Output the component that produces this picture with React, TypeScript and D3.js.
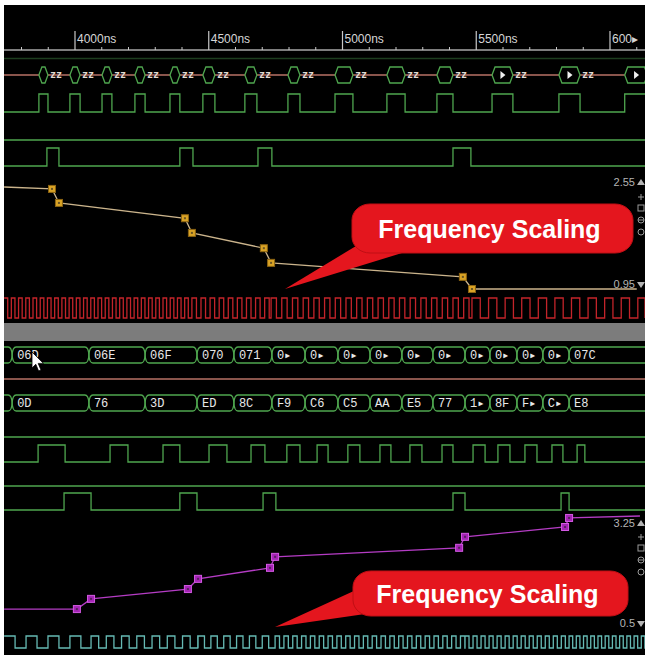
import React from "react";
import * as d3 from "d3";

type Pulse = [number, number];
type Pt = [number, number];

// ---- time axis (ns) ----
const majorTicks = [4000, 4500, 5000, 5500, 6000];
const majorLabels = ["4000ns", "4500ns", "5000ns", "5500ns", "600\u25B8"];
const minorStep = 100;

// ---- upper group ----
// bus that is z between short valid windows, windows follow the clock pulses
const clkPulses: Pulse[] = [
    [3865, 3899], [3981, 4019], [4101, 4138], [4224, 4262], [4355, 4392],
    [4478, 4523], [4635, 4680], [4796, 4841], [4972, 5039], [5166, 5234],
    [5353, 5413], [5559, 5637], [5809, 5888], [6055, 6140]
];
const strobeTop: Pulse[] = [[3895, 3940], [4392, 4441], [4684, 4736], [5413, 5480]];

// supply level, falling (V)
const vTopTimes = [3735, 3914, 3940, 4411, 4437, 4706, 4733, 5450, 5484, 6100];
const vTopValues = [2.55, 2.52, 2.30, 2.06, 1.83, 1.59, 1.36, 1.14, 0.95, 0.95];
const vTopRange = [0.95, 2.55];

// core clock, period per segment (ns)
const redSegStart = [3735, 4437, 4733, 5484];
const redSegPeriod = [27, 34, 40, 62];

// ---- lower group ----
const busTimes = [3765, 4052, 4262, 4456, 4594, 4736, 4860, 4983, 5103, 5222, 5338, 5458, 5551, 5652, 5749, 5847];
const addrLabels = ["06D", "06E", "06F", "070", "071", "0\u25B8", "0\u25B8", "0\u25B8", "0\u25B8", "0\u25B8",
    "0\u25B8", "0\u25B8", "0\u25B8", "0\u25B8", "0\u25B8", "07C"];
const dataLabels = ["0D", "76", "3D", "ED", "8C", "F9", "C6", "C5", "AA", "E5", "77", "1\u25B8", "8F", "F\u25B8", "C\u25B8", "E8"];

const clkBottom: Pulse[] = [
    [3862, 3963], [4131, 4198], [4329, 4392], [4501, 4568], [4658, 4710], [4792, 4841],
    [4905, 4946], [5020, 5065], [5140, 5181], [5252, 5297], [5372, 5413], [5488, 5533],
    [5581, 5626], [5682, 5727], [5783, 5824], [5877, 5906]
];
const strobeBottom: Pulse[] = [[3959, 4060], [4392, 4456], [4703, 4751], [5413, 5458], [5817, 5847]];

// supply level, rising (V)
const vBotTimes = [3735, 4007, 4060, 4422, 4460, 4729, 4748, 5436, 5458, 5832, 5847, 6112];
const vBotValues = [0.88, 0.88, 1.14, 1.39, 1.65, 1.93, 2.21, 2.44, 2.72, 2.97, 3.20, 3.25];
const vBotRange = [0.5, 3.25];

const tealSegStart = [3735, 4060, 4460, 4748, 5458, 5847];
const tealSegPeriod = [82, 57, 48, 33, 30, 27];

// ---- layout ----
const W = 647, H = 657;
const X0 = 4, X1 = 645;
const GREEN = "#4fa64f";
const ZLINE = "#b87266";

const x = d3.scaleLinear().domain([4000, 6000]).range([75, 610]);
const T0 = x.invert(X0), T1 = x.invert(X1);

const pulsePoints = (pulses: Pulse[]): Pt[] => {
    const pts: Pt[] = [[T0, 0]];
    pulses.forEach(([r, f]) => { pts.push([r, 1]); pts.push([f, 0]); });
    pts.push([T1, pts[pts.length - 1][1]]);
    return pts;
};

const clockPoints = (starts: number[], periods: number[]): Pt[] => {
    const pts: Pt[] = [];
    starts.forEach((s, i) => {
        const e = i < starts.length - 1 ? starts[i + 1] : T1;
        for (let t = s; t < e; t += periods[i]) {
            pts.push([t, 1]);
            pts.push([Math.min(t + periods[i] / 2, e), 0]);
        }
    });
    pts.push([T1, 0]);
    return pts;
};

const stepPath = (pts: Pt[], yHi: number, yLo: number) =>
    d3.line<Pt>().x(d => x(d[0])).y(d => (d[1] ? yHi : yLo)).curve(d3.curveStepAfter)(pts) || "";

// value box with angled ends (row 1 windows)
const hexPath = (a: number, b: number, top: number, bot: number) => {
    const c = (top + bot) / 2, s = 3;
    return `M${a},${c}L${a + s},${top}L${b - s},${top}L${b},${c}L${b - s},${bot}L${a + s},${bot}Z`;
};

// value box with rounded ")(" ends (bus rows)
const roundPath = (a: number, b: number, top: number, bot: number, openLeft = false) => {
    const c = (top + bot) / 2, s = 4;
    const right = `L${b - s},${top}Q${b - 0.5},${top} ${b},${c}Q${b - 0.5},${bot} ${b - s},${bot}`;
    if (openLeft) return `M${a},${top}${right}L${a},${bot}`;
    return `M${a + s},${top}${right}L${a + s},${bot}Q${a + 0.5},${bot} ${a},${c}Q${a + 0.5},${top} ${a + s},${top}Z`;
};

const Bus = ({ labels, top, bot }: { labels: string[], top: number, bot: number }) => {
    const xs = busTimes.map(t => x(t));
    const c = (top + bot) / 2;
    return (
        <g>
            <path d={roundPath(X0 - 2, xs[0], top, bot, true)} fill="none" stroke={GREEN} strokeWidth={1.3} />
            {xs.map((a, i) => {
                const b = i < xs.length - 1 ? xs[i + 1] : X1 + 10;
                return (
                    <g key={i}>
                        <path d={roundPath(a, b, top, bot)} fill="none" stroke={GREEN} strokeWidth={1.3} />
                        <text x={a + 5} y={c} dy="0.36em" fill="#e8e8e8" fontSize={12}
                            fontFamily="'Liberation Mono', 'DejaVu Sans Mono', monospace">{labels[i]}</text>
                    </g>
                );
            })}
        </g>
    );
};

const Analog = ({ times, values, range, yTop, yBot, color, mFill, mStroke }:
    { times: number[], values: number[], range: number[], yTop: number, yBot: number, color: string, mFill: string, mStroke: string }) => {
    const y = d3.scaleLinear().domain(range).range([yBot, yTop]);
    const pts: Pt[] = times.map((t, i) => [t, values[i]]);
    const d = d3.line<Pt>().x(p => x(p[0])).y(p => y(p[1]))(pts) || "";
    return (
        <g>
            <path d={d} fill="none" stroke={color} strokeWidth={1.3} />
            {pts.slice(1, -1).map((p, i) => (
                <g key={i} transform={`translate(${x(p[0])},${y(p[1])})`}>
                    <rect x={-3.5} y={-3.5} width={7} height={7} fill={mFill} stroke={mStroke} strokeWidth={1} />
                    <rect x={-1} y={-1} width={2} height={2} fill="#222" opacity={0.6} />
                </g>
            ))}
        </g>
    );
};

const ScaleLabels = ({ hi, lo, yHi, yLo }: { hi: string, lo: string, yHi: number, yLo: number }) => (
    <g fontFamily="'Liberation Sans', Arial, sans-serif" fontSize={11} fill="#b4b4b4">
        <text x={635} y={yHi} textAnchor="end">{hi}</text>
        <path d={`M637,${yHi - 1}L645,${yHi - 1}L641,${yHi - 7}Z`} />
        <text x={635} y={yLo} textAnchor="end">{lo}</text>
        <path d={`M637,${yLo - 6}L645,${yLo - 6}L641,${yLo}Z`} />
    </g>
);

const Tools = ({ y0 }: { y0: number }) => (
    <g stroke="#9a9a9a" strokeWidth={1} fill="none">
        <path d={`M641,${y0 - 3}V${y0 + 3}M638,${y0}H644`} />
        <rect x={638} y={y0 + 8} width={6} height={6} />
        <circle cx={641} cy={y0 + 23} r={3} />
        <path d={`M638,${y0 + 23}H644`} />
        <circle cx={641} cy={y0 + 35} r={3} />
    </g>
);

const Callout = ({ bx, by, bw, bh, wedge, label }:
    { bx: number, by: number, bw: number, bh: number, wedge: Pt[], label: string }) => (
    <g>
        <path d={`M${wedge[0][0]},${wedge[0][1]}L${wedge[1][0]},${wedge[1][1]}L${wedge[2][0]},${wedge[2][1]}Z`} fill="#e4161e" />
        <rect x={bx} y={by} width={bw} height={bh} rx={18} ry={16} fill="#e4161e" stroke="#c00e14" strokeWidth={1} />
        <text x={bx + bw / 2 - 3} y={by + bh / 2} dy="0.36em" textAnchor="middle" fill="#ffffff"
            fontSize={25} fontWeight="bold" fontFamily="'Liberation Sans', Arial, sans-serif">{label}</text>
    </g>
);

export default function App() {
    const minorTicks = d3.range(3800, 6200, minorStep).filter(t => !majorTicks.includes(t) && x(t) < X1);

    return (
        <svg width={W} height={H} style={{ position: "absolute", left: 0, top: 0, background: "#fff" }}>
            <defs>
                <clipPath id="wave"><rect x={X0} y={0} width={X1 - X0} height={H} /></clipPath>
            </defs>
            <rect x={X0} y={5} width={X1 - X0} height={650} fill="#000" />

            {/* time axis */}
            <g>
                <line x1={X0} x2={X1} y1={50} y2={50} stroke="#a8a8a8" strokeWidth={1.5} />
                {majorTicks.map((t, i) => (
                    <g key={t}>
                        <line x1={x(t)} x2={x(t)} y1={31} y2={50} stroke="#c8c8c8" strokeWidth={1.2} />
                        <text x={x(t) + 2} y={43} fill="#d6d6d6" fontSize={12}
                            fontFamily="'Liberation Sans', Arial, sans-serif">{majorLabels[i]}</text>
                    </g>
                ))}
                {minorTicks.map(t => (
                    <line key={t} x1={x(t)} x2={x(t)} y1={47} y2={50} stroke="#c8c8c8" strokeWidth={1} />
                ))}
                <line x1={X0} x2={X1} y1={58.5} y2={58.5} stroke="#1d3d1f" strokeWidth={1.5} />
            </g>

            <g clipPath="url(#wave)">
                {/* z bus with short valid windows */}
                <line x1={X0} x2={X1} y1={75} y2={75} stroke={ZLINE} strokeWidth={1.3} />
                {clkPulses.map(([r, f], i) => {
                    const a = x(r), b = x(f);
                    const next = i < clkPulses.length - 1 ? x(clkPulses[i + 1][0]) : X1;
                    return (
                        <g key={i}>
                            <path d={hexPath(a, b, 67, 83)} fill="#000" stroke={GREEN} strokeWidth={1.3} />
                            {b - a >= 20 && (
                                <path d={`M${(a + b) / 2 - 2},71L${(a + b) / 2 + 3},75L${(a + b) / 2 - 2},79Z`} fill="#f0f0f0" />
                            )}
                            {next - b > 16 && (
                                <text x={b + 2} y={75} dy="0.3em" fill="#e2dad2" fontSize={10} fontWeight="bold"
                                    fontFamily="'DejaVu Sans Mono', monospace">zz</text>
                            )}
                        </g>
                    );
                })}

                <path d={stepPath(pulsePoints(clkPulses), 94, 112)} fill="none" stroke={GREEN} strokeWidth={1.3} />
                <line x1={X0} x2={X1} y1={140} y2={140} stroke={GREEN} strokeWidth={1.3} />
                <path d={stepPath(pulsePoints(strobeTop), 148, 166)} fill="none" stroke={GREEN} strokeWidth={1.3} />

                <Analog times={vTopTimes} values={vTopValues} range={vTopRange} yTop={187} yBot={289}
                    color="#cbb48c" mFill="#d9a326" mStroke="#8c6412" />

                <path d={stepPath(clockPoints(redSegStart, redSegPeriod), 298, 318)} fill="none" stroke="#c3242a" strokeWidth={1.3} />

                <rect x={X0} y={323} width={X1 - X0} height={18} fill="#7c7c7c" />

                <Bus labels={addrLabels} top={347} bot={363} />
                <line x1={X0} x2={X1} y1={379} y2={379} stroke={ZLINE} strokeWidth={1.5} />
                <Bus labels={dataLabels} top={395} bot={411} />

                <line x1={X0} x2={X1} y1={437} y2={437} stroke={GREEN} strokeWidth={1.3} />
                <path d={stepPath(pulsePoints(clkBottom), 445, 462)} fill="none" stroke={GREEN} strokeWidth={1.3} />
                <line x1={X0} x2={X1} y1={486} y2={486} stroke={GREEN} strokeWidth={1.3} />
                <path d={stepPath(pulsePoints(strobeBottom), 493, 510)} fill="none" stroke={GREEN} strokeWidth={1.3} />

                <Analog times={vBotTimes} values={vBotValues} range={vBotRange} yTop={516} yBot={624}
                    color="#b43cc4" mFill="#a424b4" mStroke="#d45ae4" />

                <path d={stepPath(clockPoints(tealSegStart, tealSegPeriod), 636, 648)} fill="none" stroke="#66bab4" strokeWidth={1.3} />
            </g>

            <ScaleLabels hi="2.55" lo="0.95" yHi={186} yLo={288} />
            <Tools y0={197} />
            <ScaleLabels hi="3.25" lo="0.5" yHi={527} yLo={627} />
            <Tools y0={537} />

            {/* mouse pointer */}
            <path d="M32,352L32,368L35.8,364.3L38.6,371L41,370L38.2,363.4L43.5,363.4Z" fill="#fff" stroke="#000" strokeWidth={0.8} />

            <Callout bx={352} by={204} bw={281} bh={49} wedge={[[285, 289], [356, 246], [402, 253]]} label="Frequency Scaling" />
            <Callout bx={353} by={571} bw={275} bh={45} wedge={[[275, 627], [356, 590], [372, 613]]} label="Frequency Scaling" />
        </svg>
    );
}
